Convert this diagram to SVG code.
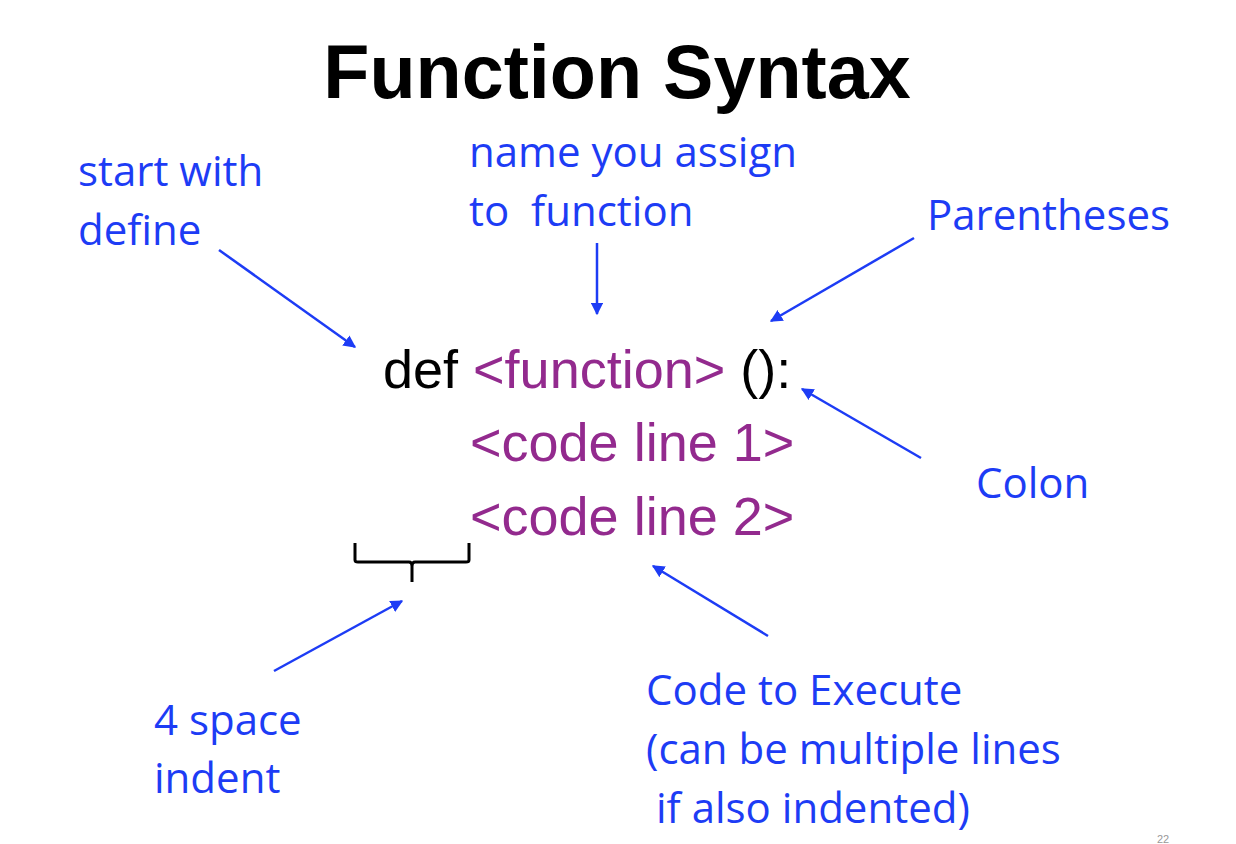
<svg xmlns="http://www.w3.org/2000/svg" width="1236" height="844" viewBox="0 0 1236 844">
<defs>
<style>
.title{font-family:"Liberation Sans",Arial,sans-serif;font-weight:bold;font-size:75.5px;fill:#000}
.note{font-family:"Open Sans","Noto Sans",sans-serif;font-size:42px;fill:#1d3cf5}
.code{font-family:"Liberation Sans",Arial,sans-serif;font-size:54px}
.kw{fill:#000}
.pu{fill:#932a8e}
.arrow{stroke:#1d3cf5;stroke-width:2.5;fill:none;marker-end:url(#ah)}
.brace{stroke:#000;stroke-width:3;fill:none;stroke-linejoin:round}
</style>
<marker id="ah" viewBox="0 0 10 10" refX="9" refY="5" markerWidth="5" markerHeight="5" orient="auto" markerUnits="strokeWidth">
<path d="M0,0 L10,5 L0,10 z" fill="#1d3cf5"/>
</marker>
</defs>
<rect width="1236" height="844" fill="#fff"/>
<g id="title"><text class="title" x="617" y="98" text-anchor="middle">Function Syntax</text></g>
<g id="code">
<text class="code" x="383" y="388"><tspan class="kw">def </tspan><tspan class="pu">&lt;function&gt;</tspan><tspan class="kw"> ():</tspan></text>
<text class="code pu" x="470" y="461">&lt;code line 1&gt;</text>
<text class="code pu" x="470" y="535">&lt;code line 2&gt;</text>
</g>
<g id="brace"><path class="brace" d="M355,543 V560 Q355,562 358,562 H409 Q412,562 412,566 V582 M412,566 Q412,562 415,562 H466 Q469,562 469,560 V543"/></g>
<g id="label-define"><text class="note" x="78" y="186">start with</text><text class="note" x="78" y="245">define</text></g>
<g id="label-name"><text class="note" x="469" y="167">name you assign</text><text class="note" x="469" y="226" xml:space="preserve">to  function</text></g>
<g id="label-parentheses"><text class="note" x="927" y="230">Parentheses</text></g>
<g id="label-colon"><text class="note" x="976" y="498">Colon</text></g>
<g id="label-code"><text class="note" x="646" y="705">Code to Execute</text><text class="note" x="646" y="764">(can be multiple lines</text><text class="note" x="656" y="823">if also indented)</text></g>
<g id="label-indent"><text class="note" x="154" y="735">4 space</text><text class="note" x="154" y="793">indent</text></g>
<g id="connectors">
<line class="arrow" x1="219" y1="250" x2="355" y2="347"/>
<line class="arrow" x1="597" y1="243" x2="597" y2="314"/>
<line class="arrow" x1="914" y1="238" x2="771" y2="321"/>
<line class="arrow" x1="921" y1="458" x2="802" y2="389"/>
<line class="arrow" x1="768" y1="636" x2="653" y2="566"/>
<line class="arrow" x1="274" y1="671" x2="402" y2="601"/>
</g>
<text x="1163" y="843" style="font-family:'Liberation Sans',Arial,sans-serif;font-size:11px;fill:#999" text-anchor="middle">22</text>
</svg>
